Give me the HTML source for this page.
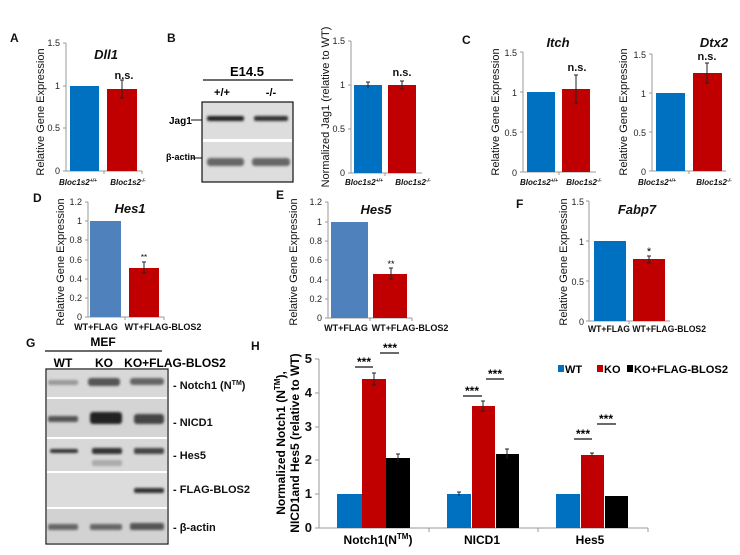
<!DOCTYPE html>
<html><head><meta charset="utf-8"><style>
html,body{margin:0;padding:0;background:#fff}
svg{display:block;font-family:"Liberation Sans",Arial,sans-serif}
.ax{stroke:#999;stroke-width:1;fill:none}
.t{font-size:9px;fill:#222;text-anchor:end}
.xl{font-size:8px;font-weight:bold;font-style:italic;fill:#111;text-anchor:middle}
.yl{font-size:11px;fill:#111;text-anchor:middle}
.tt{font-size:13px;font-weight:bold;font-style:italic;fill:#111;text-anchor:middle}
.ns{font-size:11px;font-weight:bold;fill:#111;text-anchor:middle}
.pl{font-size:12px;font-weight:bold;fill:#111}
.eb{stroke:#222;stroke-width:1;fill:none}
.bl{fill:#0070c0}.rd{fill:#c00000}.sb{fill:#4f81bd}.bk{fill:#000}
.wx{font-size:9px;font-weight:bold;fill:#111;text-anchor:middle}
.gl{font-size:11px;font-weight:bold;fill:#111}
.ht{font-size:13px;font-weight:bold;fill:#111;text-anchor:end}
</style></head><body>
<svg width="740" height="555" viewBox="0 0 740 555">
<defs>
<filter id="bl1"><feGaussianBlur stdDeviation="1.3"/></filter>
</defs>

<!-- Panel A -->
<text class="pl" x="10" y="42">A</text>
<text class="tt" x="106" y="59">Dll1</text>
<line class="ax" x1="66" y1="43" x2="66" y2="171"/>
<line class="ax" x1="63" y1="43" x2="66" y2="43"/><line class="ax" x1="63" y1="86" x2="66" y2="86"/><line class="ax" x1="63" y1="128" x2="66" y2="128"/>
<line class="ax" x1="63" y1="171" x2="142" y2="171"/><line class="ax" x1="104" y1="171" x2="104" y2="174"/><line class="ax" x1="142" y1="171" x2="142" y2="174"/>
<text class="t" x="60" y="46">1.5</text><text class="t" x="60" y="89">1</text><text class="t" x="60" y="131">0.5</text><text class="t" x="60" y="174">0</text>
<rect class="bl" x="70" y="86" width="29" height="85"/>
<rect class="rd" x="107" y="89" width="30" height="82"/>
<path class="eb" d="M122 80V98M120 80H124M120 98H124"/>
<text class="ns" x="124" y="79">n.s.</text>
<text class="yl" transform="translate(44,112) rotate(-90)">Relative Gene Expression</text>
<text class="xl" x="78" y="185">Bloc1s2<tspan font-size="5" dy="-3">+/+</tspan></text>
<text class="xl" x="128" y="185">Bloc1s2<tspan font-size="5" dy="-3">-/-</tspan></text>

<!-- Panel B blot -->
<text class="pl" x="167" y="42">B</text>
<text x="247" y="76" font-size="13" font-weight="bold" text-anchor="middle">E14.5</text>
<line x1="203" y1="80" x2="293" y2="80" stroke="#111" stroke-width="1.2"/>
<text x="222" y="96" font-size="11" font-weight="bold" text-anchor="middle">+/+</text>
<text x="271" y="96" font-size="11" font-weight="bold" text-anchor="middle">-/-</text>
<rect x="202" y="102" width="91" height="80" fill="#ddd" stroke="#111" stroke-width="1.2"/>
<rect x="203" y="139" width="89" height="3" fill="#fff"/>
<g filter="url(#bl1)">
<rect x="207" y="116" width="37" height="5" rx="2" fill="#222"/>
<rect x="254" y="116" width="34" height="5" rx="2" fill="#333"/>
<rect x="207" y="158" width="37" height="8" rx="3" fill="#666"/>
<rect x="252" y="158" width="38" height="8" rx="3" fill="#666"/>
</g>
<text x="169" y="124" font-size="10" font-weight="bold">Jag1</text>
<line x1="191" y1="120" x2="202" y2="120" stroke="#111"/>
<text x="166" y="160" font-size="9" font-weight="bold">β-actin</text>
<line x1="192" y1="158" x2="202" y2="158" stroke="#111"/>

<!-- Panel B chart -->
<line class="ax" x1="351" y1="41" x2="351" y2="173"/>
<line class="ax" x1="348" y1="41" x2="351" y2="41"/><line class="ax" x1="348" y1="85" x2="351" y2="85"/><line class="ax" x1="348" y1="129" x2="351" y2="129"/>
<line class="ax" x1="348" y1="173" x2="422" y2="173"/><line class="ax" x1="385" y1="173" x2="385" y2="176"/>
<text class="t" x="345" y="44">1.5</text><text class="t" x="345" y="88">1</text><text class="t" x="345" y="132">0.5</text><text class="t" x="345" y="176">0</text>
<rect class="bl" x="354" y="85" width="28" height="88"/>
<rect class="rd" x="388" y="85" width="28" height="88"/>
<path class="eb" d="M368 82V88M366 82H370M402 81V89M400 81H404M400 89H404"/>
<text class="ns" x="402" y="76">n.s.</text>
<text class="yl" transform="translate(329,107) rotate(-90)">Normalized Jag1 (relative to WT)</text>
<text class="xl" x="364" y="185">Bloc1s2<tspan font-size="5" dy="-3">+/+</tspan></text>
<text class="xl" x="413" y="185">Bloc1s2<tspan font-size="5" dy="-3">-/-</tspan></text>

<!-- Panel C -->
<text class="pl" x="462" y="44">C</text>
<text class="tt" x="558" y="47">Itch</text>
<line class="ax" x1="523" y1="52" x2="523" y2="172"/>
<line class="ax" x1="520" y1="52" x2="523" y2="52"/><line class="ax" x1="520" y1="92" x2="523" y2="92"/><line class="ax" x1="520" y1="132" x2="523" y2="132"/>
<line class="ax" x1="520" y1="172" x2="596" y2="172"/><line class="ax" x1="559" y1="172" x2="559" y2="175"/>
<text class="t" x="517" y="56" font-size="10">1.5</text><text class="t" x="517" y="96">1</text><text class="t" x="517" y="136">0.5</text><text class="t" x="517" y="176">0</text>
<rect class="bl" x="527" y="92" width="28" height="80"/>
<rect class="rd" x="562" y="89" width="28" height="83"/>
<path class="eb" d="M576 75V103M574 75H578M574 103H578"/>
<text class="ns" x="577" y="71">n.s.</text>
<text class="yl" transform="translate(499,112) rotate(-90)">Relative Gene Expression</text>
<text class="xl" x="539" y="185">Bloc1s2<tspan font-size="5" dy="-3">+/+</tspan></text>
<text class="xl" x="584" y="185">Bloc1s2<tspan font-size="5" dy="-3">-/-</tspan></text>

<text class="tt" x="714" y="47">Dtx2</text>
<line class="ax" x1="652" y1="54" x2="652" y2="171"/>
<line class="ax" x1="649" y1="54" x2="652" y2="54"/><line class="ax" x1="649" y1="93" x2="652" y2="93"/><line class="ax" x1="649" y1="132" x2="652" y2="132"/>
<line class="ax" x1="649" y1="171" x2="726" y2="171"/><line class="ax" x1="689" y1="171" x2="689" y2="174"/>
<text class="t" x="646" y="58">1.5</text><text class="t" x="646" y="97">1</text><text class="t" x="646" y="136">0.5</text><text class="t" x="646" y="175">0</text>
<rect class="bl" x="656" y="93" width="29" height="78"/>
<rect class="rd" x="693" y="73" width="29" height="98"/>
<path class="eb" d="M707 63V83M705 63H709M705 83H709"/>
<text class="ns" x="707" y="60">n.s.</text>
<text class="yl" transform="translate(627,112) rotate(-90)">Relative Gene Expression</text>
<text class="xl" x="657" y="185">Bloc1s2<tspan font-size="5" dy="-3">+/+</tspan></text>
<text class="xl" x="714" y="185">Bloc1s2<tspan font-size="5" dy="-3">-/-</tspan></text>

<!-- Panel D -->
<text class="pl" x="33" y="202">D</text>
<text class="tt" x="130" y="213">Hes1</text>
<line class="ax" x1="88" y1="202" x2="88" y2="317"/>
<g class="ax"><line x1="85" y1="202" x2="88" y2="202"/><line x1="85" y1="221" x2="88" y2="221"/><line x1="85" y1="240" x2="88" y2="240"/><line x1="85" y1="260" x2="88" y2="260"/><line x1="85" y1="279" x2="88" y2="279"/><line x1="85" y1="298" x2="88" y2="298"/><line x1="85" y1="317" x2="164" y2="317"/><line x1="125" y1="317" x2="125" y2="320"/><line x1="164" y1="317" x2="164" y2="320"/></g>
<g class="t" font-size="8"><text x="82" y="205">1.2</text><text x="82" y="224">1</text><text x="82" y="243">0.8</text><text x="82" y="263">0.6</text><text x="82" y="282">0.4</text><text x="82" y="301">0.2</text><text x="82" y="320">0</text></g>
<rect class="sb" x="90" y="221" width="31" height="96"/>
<rect class="rd" x="129" y="268" width="30" height="49"/>
<path class="eb" d="M144 262V273M142 262H146M142 273H146"/>
<text x="144" y="260" font-size="8" text-anchor="middle">**</text>
<text class="yl" transform="translate(64,262) rotate(-90)">Relative Gene Expression</text>
<text class="wx" x="96" y="330">WT+FLAG</text>
<text class="wx" x="163" y="330">WT+FLAG-BLOS2</text>

<!-- Panel E -->
<text class="pl" x="276" y="199">E</text>
<text class="tt" x="376" y="214">Hes5</text>
<line class="ax" x1="328" y1="202" x2="328" y2="318"/>
<g class="ax"><line x1="325" y1="202" x2="328" y2="202"/><line x1="325" y1="222" x2="328" y2="222"/><line x1="325" y1="241" x2="328" y2="241"/><line x1="325" y1="260" x2="328" y2="260"/><line x1="325" y1="280" x2="328" y2="280"/><line x1="325" y1="299" x2="328" y2="299"/><line x1="325" y1="318" x2="412" y2="318"/><line x1="370" y1="318" x2="370" y2="321"/><line x1="412" y1="318" x2="412" y2="321"/></g>
<g class="t" font-size="8"><text x="322" y="205">1.2</text><text x="322" y="225">1</text><text x="322" y="244">0.8</text><text x="322" y="263">0.6</text><text x="322" y="283">0.4</text><text x="322" y="302">0.2</text><text x="322" y="321">0</text></g>
<rect class="sb" x="331" y="222" width="37" height="96"/>
<rect class="rd" x="373" y="274" width="34" height="44"/>
<path class="eb" d="M391 268V279M389 268H393M389 279H393"/>
<text x="391" y="267" font-size="9" text-anchor="middle">**</text>
<text class="yl" transform="translate(297,262) rotate(-90)">Relative Gene Expression</text>
<text class="wx" x="346" y="331">WT+FLAG</text>
<text class="wx" x="410" y="331">WT+FLAG-BLOS2</text>

<!-- Panel F -->
<text class="pl" x="516" y="208">F</text>
<text class="tt" x="637" y="214">Fabp7</text>
<line class="ax" x1="589" y1="201" x2="589" y2="321"/>
<g class="ax"><line x1="586" y1="201" x2="589" y2="201"/><line x1="586" y1="241" x2="589" y2="241"/><line x1="586" y1="281" x2="589" y2="281"/><line x1="586" y1="321" x2="670" y2="321"/><line x1="629" y1="321" x2="629" y2="324"/></g>
<g class="t" font-size="10"><text x="584" y="205">1.5</text><text x="584" y="245">1</text><text x="584" y="285">0.5</text><text x="584" y="325">0</text></g>
<rect class="bl" x="594" y="241" width="32" height="80"/>
<rect class="rd" x="633" y="259" width="32" height="62"/>
<path class="eb" d="M649 256V263M647 256H651M647 263H651"/>
<text x="649" y="255" font-size="11" text-anchor="middle">*</text>
<text class="yl" transform="translate(567,262) rotate(-90)">Relative Gene Expression</text>
<text class="wx" x="647" y="332" textLength="118" lengthAdjust="spacingAndGlyphs">WT+FLAG WT+FLAG-BLOS2</text>

<!-- Panel G -->
<text class="pl" x="26" y="347">G</text>
<text x="103" y="346" font-size="12" font-weight="bold" text-anchor="middle">MEF</text>
<line x1="45" y1="351" x2="162" y2="351" stroke="#111" stroke-width="1.2"/>
<text x="63" y="367" font-size="12" font-weight="bold" text-anchor="middle">WT</text>
<text x="104" y="367" font-size="12" font-weight="bold" text-anchor="middle">KO</text>
<text x="175" y="367" font-size="12" font-weight="bold" text-anchor="middle">KO+FLAG-BLOS2</text>
<rect x="46" y="369" width="122" height="175" fill="#fff" stroke="#111" stroke-width="1.2"/>
<rect x="47" y="370" width="120" height="27" fill="#d8d8d8"/>
<rect x="47" y="399" width="120" height="38" fill="#d4d4d4"/>
<rect x="47" y="439" width="120" height="32" fill="#d8d8d8"/>
<rect x="47" y="473" width="120" height="34" fill="#dcdcdc"/>
<rect x="47" y="509" width="120" height="34" fill="#d2d2d2"/>
<g filter="url(#bl1)">
<rect x="48" y="380" width="30" height="5" rx="2" fill="#999"/>
<rect x="88" y="378" width="32" height="8" rx="3" fill="#555"/>
<rect x="130" y="378" width="34" height="7" rx="3" fill="#666"/>
<rect x="48" y="416" width="30" height="6" rx="2" fill="#555"/>
<rect x="90" y="412" width="32" height="12" rx="3" fill="#222"/>
<rect x="134" y="414" width="30" height="10" rx="3" fill="#444"/>
<rect x="50" y="449" width="28" height="4" rx="2" fill="#333"/>
<rect x="92" y="448" width="30" height="6" rx="2" fill="#333"/>
<rect x="134" y="448" width="30" height="6" rx="2" fill="#444"/>
<rect x="92" y="460" width="30" height="6" rx="2" fill="#aaa"/>
<rect x="134" y="488" width="30" height="5" rx="2" fill="#333"/>
<rect x="48" y="524" width="30" height="6" rx="2" fill="#666"/>
<rect x="90" y="524" width="32" height="6" rx="2" fill="#666"/>
<rect x="130" y="523" width="34" height="7" rx="2" fill="#555"/>
</g>
<g class="gl"><text x="173" y="389">- Notch1 (N<tspan font-size="7" dy="-4">TM</tspan><tspan dy="4">)</tspan></text>
<text x="173" y="426">- NICD1</text><text x="173" y="459">-  Hes5</text><text x="173" y="493">- FLAG-BLOS2</text><text x="173" y="531">- β-actin</text></g>

<!-- Panel H -->
<text class="pl" x="251" y="350">H</text>
<line class="ax" x1="319" y1="359" x2="319" y2="528"/>
<g class="ax"><line x1="315" y1="359" x2="319" y2="359"/><line x1="315" y1="393" x2="319" y2="393"/><line x1="315" y1="427" x2="319" y2="427"/><line x1="315" y1="460" x2="319" y2="460"/><line x1="315" y1="494" x2="319" y2="494"/><line x1="315" y1="528" x2="648" y2="528"/><line x1="429" y1="528" x2="429" y2="532"/><line x1="538" y1="528" x2="538" y2="532"/><line x1="648" y1="528" x2="648" y2="532"/></g>
<g class="ht"><text x="312" y="363">5</text><text x="312" y="397">4</text><text x="312" y="431">3</text><text x="312" y="464">2</text><text x="312" y="498">1</text><text x="312" y="532">0</text></g>
<rect class="bl" x="337" y="494" width="25" height="34"/>
<rect class="rd" x="362" y="379" width="24" height="149"/>
<rect class="bk" x="386" y="458" width="24" height="70"/>
<rect class="bl" x="447" y="494" width="24" height="34"/>
<rect class="rd" x="472" y="406" width="23" height="122"/>
<rect class="bk" x="496" y="454" width="23" height="74"/>
<rect class="bl" x="556" y="494" width="24" height="34"/>
<rect class="rd" x="581" y="455" width="23" height="73"/>
<rect class="bk" x="605" y="496" width="23" height="32"/>
<path class="eb" d="M374 373V385M372 373H376M372 385H376M398 454V461M396 454H400M459 492V496M457 492H461M483 401V411M481 401H485M481 411H485M507 449V459M505 449H509M592 453V457M590 453H594"/>
<g stroke="#111" stroke-width="1.3"><line x1="355" y1="367" x2="373" y2="367"/><line x1="380" y1="353" x2="399" y2="353"/><line x1="463" y1="396" x2="482" y2="396"/><line x1="486" y1="379" x2="504" y2="379"/><line x1="574" y1="439" x2="592" y2="439"/><line x1="597" y1="424" x2="616" y2="424"/></g>
<g font-size="12" font-weight="bold" text-anchor="middle"><text x="364" y="366">***</text><text x="390" y="352">***</text><text x="472" y="395">***</text><text x="495" y="378">***</text><text x="583" y="438">***</text><text x="606" y="423">***</text></g>
<rect x="558" y="365" width="6" height="7" fill="#0070c0"/><text x="565" y="373" font-size="11" font-weight="bold">WT</text>
<rect x="597" y="365" width="6" height="7" fill="#c00000"/><text x="604" y="373" font-size="11" font-weight="bold">KO</text>
<rect x="627" y="365" width="6" height="7" fill="#000"/><text x="634" y="373" font-size="11" font-weight="bold" textLength="94" lengthAdjust="spacingAndGlyphs">KO+FLAG-BLOS2</text>
<g font-size="12" font-weight="bold" text-anchor="middle">
<text x="378" y="544">Notch1(N<tspan font-size="8" dy="-5">TM</tspan><tspan dy="5">)</tspan></text>
<text x="482" y="544">NICD1</text><text x="590" y="544">Hes5</text>
<text transform="translate(285,443) rotate(-90)">Normalized Notch1 (N<tspan font-size="8" dy="-5">TM</tspan><tspan dy="5">),</tspan></text>
<text transform="translate(299,443) rotate(-90)">NICD1and Hes5 (relative to WT)</text>
</g>
</svg>
</body></html>
